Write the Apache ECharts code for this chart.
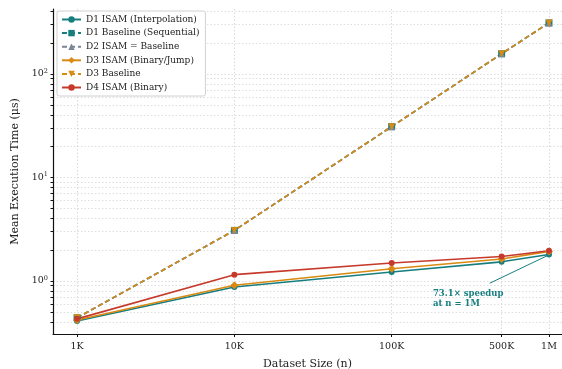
<!DOCTYPE html>
<html lang="en">
  <head>
    <meta charset="UTF-8" />
    <title>ISAM execution time</title>
    <script src="https://cdn.jsdelivr.net/npm/echarts@6/dist/echarts.min.js"></script>
    <style>
      body { margin: 0; background: #fff; }
      #main { width: 562px; height: 369px; }
    </style>
  </head>
  <body>
    <div id="main"></div>
    <script>
      // dataset sizes (n) and mean execution times (us)
      var sizes = [1000, 10000, 100000, 500000, 1000000];
      var sizeLabels = ["1K", "10K", "100K", "500K", "1M"];
      var d1Isam = [0.41, 0.875, 1.22, 1.53, 1.8];
      var d1Base = [0.44, 3.08, 31, 157, 312];
      var d2Isam = [0.44, 3.08, 31, 157, 312];
      var d3Isam = [0.42, 0.91, 1.31, 1.63, 1.93];
      var d3Base = [0.44, 3.08, 31, 157, 312];
      var d4Isam = [0.43, 1.15, 1.49, 1.72, 1.96];
      var yMajor = [1, 10, 100];
      var yMinor = [0.4, 0.5, 0.6, 0.7, 0.8, 0.9, 2, 3, 4, 5, 6, 7, 8, 9,
                    20, 30, 40, 50, 60, 70, 80, 90, 200, 300, 400];

      var font = "DejaVu Serif";
      var teal = "#177e80", gray = "#7a8697", orange = "#d98a12", red = "#c63a2c";

      function pts(arr) {
        return sizes.map(function (n, i) { return [n, arr[i]]; });
      }
      function mk(name, arr, color, symbol, dashed, size) {
        return {
          name: name,
          type: "line",
          data: pts(arr),
          symbol: symbol,
          symbolSize: size,
          itemStyle: { color: color },
          lineStyle: { color: color, width: 1.6, type: dashed ? [5, 3] : "solid" },
          emphasis: { disabled: true },
        };
      }

      var series = [
        mk("D1 ISAM (Interpolation)", d1Isam, teal, "circle", false, 6),
        mk("D1 Baseline (Sequential)", d1Base, teal, "rect", true, 7),
        mk("D2 ISAM = Baseline", d2Isam, gray, "triangle", true, 7),
        mk("D3 ISAM (Binary/Jump)", d3Isam, orange, "diamond", false, 8),
        mk("D3 Baseline", d3Base, orange, "path://M0,0L10,0L5,9Z", true, 7),
        mk("D4 ISAM (Binary)", d4Isam, red, "circle", false, 6),
      ];

      // speedup annotation on the D1 ISAM series
      series[0].markLine = {
        silent: true,
        symbol: ["none", "arrow"],
        symbolSize: [0, 6],
        label: { show: false },
        lineStyle: { color: teal, width: 1, type: "solid" },
        data: [[{ coord: [420000, 0.95] }, { coord: [980000, 1.76] }]],
      };
      series[0].markPoint = {
        silent: true,
        symbol: "circle",
        symbolSize: 0,
        label: {
          show: true,
          position: "inside",
          align: "left",
          verticalAlign: "top",
          formatter: "73.1\u00d7 speedup\nat n = 1M",
          fontFamily: font,
          fontSize: 8.5,
          fontWeight: "bold",
          lineHeight: 10,
          color: teal,
        },
        data: [{ coord: [183000, 0.84] }],
      };

      var myChart = echarts.init(document.getElementById("main"));
      var option = {
        animation: false,
        textStyle: { fontFamily: font },
        grid: { left: 53, right: 0, top: 9, bottom: 35, containLabel: false, outerBoundsMode: "none" },
        legend: {
          orient: "vertical",
          left: 57,
          top: 11,
          padding: [4, 6, 4, 4],
          itemWidth: 19,
          itemHeight: 8,
          itemGap: 4.6,
          backgroundColor: "#fff",
          borderColor: "#d0d0d0",
          borderWidth: 1,
          borderRadius: 2,
          textStyle: { fontFamily: font, fontSize: 9, color: "#222" },
          data: series.map(function (s) { return s.name; }),
        },
        xAxis: {
          type: "log",
          min: 703,
          max: 1210000,
          name: "Dataset Size (n)",
          nameLocation: "middle",
          nameGap: 25,
          nameTextStyle: { fontFamily: font, fontSize: 11, color: "#222" },
          axisLine: { lineStyle: { color: "#111", width: 1.2 } },
          axisTick: { length: 3, lineStyle: { color: "#111" }, customValues: sizes },
          axisLabel: {
            customValues: sizes,
            fontFamily: font,
            fontSize: 9.5,
            color: "#222",
            margin: 8,
            formatter: function (v) { return sizeLabels[sizes.indexOf(Math.round(v))] || ""; },
          },
          splitLine: { show: true, lineStyle: { color: "#cfcfcf", type: [1.5, 2], width: 0.8 } },
        },
        yAxis: {
          type: "log",
          min: 0.307,
          max: 425,
          name: "Mean Execution Time (\u03bcs)",
          nameLocation: "middle",
          nameGap: 32,
          nameTextStyle: { fontFamily: font, fontSize: 11, color: "#222" },
          axisLine: { show: true, lineStyle: { color: "#111", width: 1.2 } },
          axisTick: { length: 2.5, lineStyle: { color: "#111" }, customValues: yMajor.concat(yMinor) },
          axisLabel: {
            customValues: yMajor,
            fontFamily: font,
            fontSize: 9.5,
            color: "#222",
            margin: 5,
            formatter: function (v) { return "10{s|" + Math.round(Math.log10(v)) + "}"; },
            rich: { s: { fontFamily: font, fontSize: 6.5, padding: [0, 0, 6, 0], color: "#222" } },
          },
          splitLine: { show: true, lineStyle: { color: "#d6d6d6", type: [1.5, 2], width: 0.8 } },
        },
        series: series,
      };
      myChart.setOption(option);
    </script>
  </body>
</html>
